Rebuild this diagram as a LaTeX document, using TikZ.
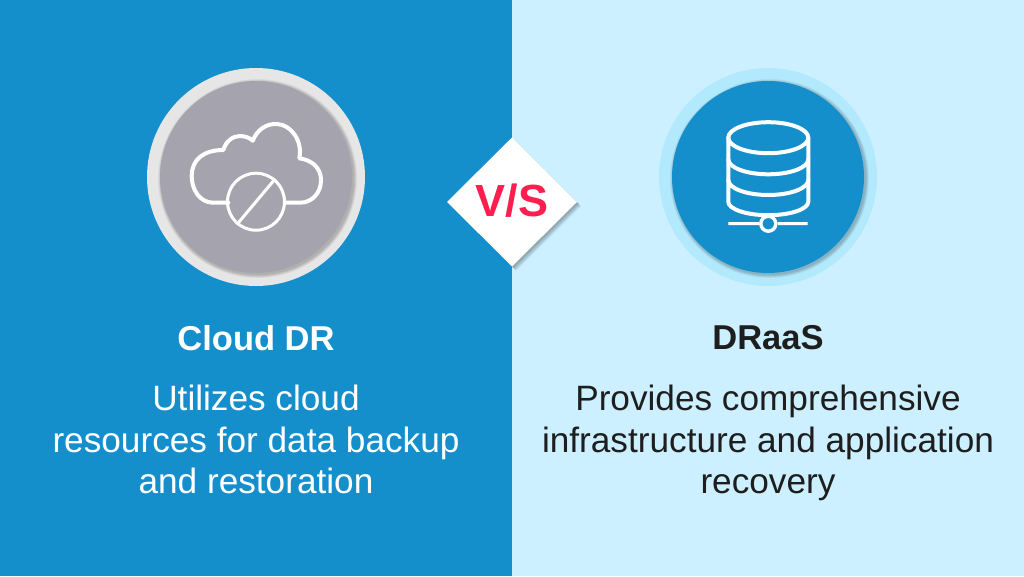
\documentclass[tikz,border=0pt]{standalone}
\usepackage{fontspec}
\setmainfont{Liberation Sans}
\usetikzlibrary{shapes.geometric}
\definecolor{blueside}{HTML}{158FCC}
\definecolor{lightside}{HTML}{CCF0FF}
\definecolor{ringgrey}{HTML}{E6E6E6}
\definecolor{discgrey}{HTML}{A5A4AE}
\definecolor{ringblue}{HTML}{B3E9FD}
\definecolor{versusred}{HTML}{FF1F4F}
\definecolor{inkdark}{HTML}{1E1E1E}
\tikzset{
  ring/.style={circle,minimum size=218pt,inner sep=0pt},
  disc/.style={circle,minimum size=192pt,inner sep=0pt},
  title/.style={inner sep=0pt,font=\fontsize{34.5}{40}\selectfont\bfseries},
  body/.style={inner sep=0pt,align=center,font=\fontsize{35.2}{41.5}\selectfont},
  icon/.style={white,line width=4pt,line cap=round,line join=round},
}
\begin{document}
\begin{tikzpicture}[x=1pt,y=-1pt]
\useasboundingbox (0,0) rectangle (1024,576);

% background halves
\fill[blueside] (0,0) rectangle (512,576);
\fill[lightside] (512,0) rectangle (1024,576);

% left disc
\node[ring,fill=ringgrey] (leftring) at (256,177) {};
\foreach \r in {193,194,195,196,197,198,199}
  \fill[black,opacity=0.035] (257.5,178.5) circle ({\r/2});
\node[disc,fill=discgrey] (leftdisc) at (256,177) {};

% cloud with ban sign
\draw[icon] (228.3,202.7) -- (213.3,202.7)
  .. controls (200,202.7) and (191.7,190) .. (191.7,176)
  .. controls (191.7,160) and (203,150) .. (223.3,150)
  .. controls (226,141) and (233,136) .. (240,136)
  .. controls (245,136) and (250,138) .. (252.7,140.7)
  .. controls (257,130) and (266,123.5) .. (277,124)
  .. controls (291,124.5) and (303,141) .. (299.3,158.3)
  .. controls (312,160) and (321,168) .. (321,180)
  .. controls (321,193) and (312,202.7) .. (300,202.7)
  -- (285,202.7);
\node[circle,draw=white,line width=3pt,minimum size=57pt,inner sep=0pt] (bansign) at (256,201.7) {};
\draw[white,line width=3pt] (bansign.230) -- (bansign.50);

% right disc
\node[ring,fill=ringblue] (rightring) at (768,177) {};
\foreach \r in {193,194,195,196,197,198,199}
  \fill[black,opacity=0.035] (769.5,178.5) circle ({\r/2});
\node[disc,fill=blueside] (rightdisc) at (768,177) {};

% database icon
\draw[icon] (768.3,137.7) ellipse (40 and 15.5);
\draw[icon] (728.3,137.7) -- (728.3,201.7) arc[start angle=180,end angle=360,x radius=40,y radius=-13.5] -- (808.3,137.7);
\draw[icon] (728.3,159.3) arc[start angle=180,end angle=360,x radius=40,y radius=-15];
\draw[icon] (728.3,180) arc[start angle=180,end angle=360,x radius=40,y radius=-15];
\node[circle,draw=white,line width=3.4pt,minimum size=15pt,inner sep=0pt] (hub) at (768.3,223.7) {};
\coordinate (busleft) at (728.3,223.5);
\coordinate (busright) at (807.7,223.5);
\draw[white,line width=3pt] (busleft) -- (hub) (hub) -- (busright);

% versus diamond
\foreach \s in {1,2,3,4}
  \fill[black,opacity=0.09] (512+\s,137.5+\s) -- (577+\s,202+\s) -- (512+\s,266.5+\s) -- (447+\s,202+\s) -- cycle;
\fill[white] (512,137.5) -- (577,202) -- (512,266.5) -- (447,202) -- cycle;
\node[inner sep=0pt,text=versusred,font=\fontsize{45}{50}\selectfont\bfseries] (versus) at (512,201) {V/S};

% texts
\node[title,white] (leftname) at (256,338) {Cloud DR};
\node[title,inkdark] (rightname) at (768,338) {DRaaS};
\node[body,white] (lefttext) at (256,444) {\strut Utilizes cloud\\resources for data backup\\\strut and restoration};
\node[body,inkdark] (righttext) at (768,444) {\strut Provides comprehensive\\infrastructure and application\\\strut recovery};
\end{tikzpicture}
\end{document}
